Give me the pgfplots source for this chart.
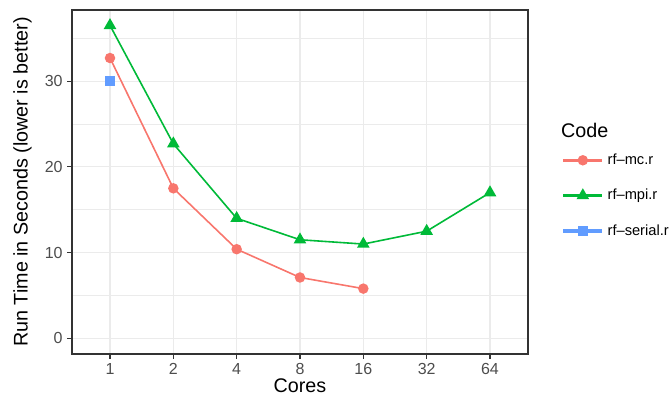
\documentclass[border=0pt]{standalone}
\usepackage{fontspec}
\setmainfont{Liberation Sans}
\usepackage{pgfplots}
\pgfplotsset{compat=1.18}
\definecolor{ggred}{HTML}{F8766D}
\definecolor{gggreen}{HTML}{00BA38}
\definecolor{ggblue}{HTML}{619CFF}
\definecolor{gridgray}{HTML}{EBEBEB}
\definecolor{framegray}{HTML}{333333}
\definecolor{tickgray}{HTML}{4D4D4D}
\pgfplotsset{
  ggkey/.style n args={3}{legend image code/.code={
    \fill[#1] (0pt,-0.65pt) rectangle (28pt,0.65pt);
    \draw[#1, fill=#1] plot[mark=#2, mark size=#3] coordinates {(14pt,0pt)};
  }},
}
\begin{document}
\begin{tikzpicture}
\path[use as bounding box] (0,0) rectangle (504pt,303pt);
\begin{axis}[
  at={(54pt,37.5pt)}, anchor=south west,
  scale only axis, width=342pt, height=258pt,
  xmin=-0.6, xmax=6.6, ymin=-1.825, ymax=38.3,
  xtick={0,1,2,3,4,5,6},
  xticklabels={1,2,4,8,16,32,64},
  ytick={0,10,20,30},
  minor ytick={5,15,25,35},
  grid=both,
  major grid style={gridgray, line width=0.8pt},
  minor grid style={gridgray, line width=0.4pt},
  axis line style={framegray, line width=0.8pt},
  tick style={framegray, line width=0.8pt},
  minor tick length=0pt,
  major tick length=3.5pt,
  tick align=outside, tick pos=left,
  ticklabel style={font=\fontsize{12}{14}\selectfont, text=tickgray},
  /pgf/number format/assume math mode=true,
  xlabel={Cores}, ylabel={Run Time in Seconds (lower is better)},
  label style={font=\fontsize{14.8}{17}\selectfont},
  xlabel style={yshift=3.5pt},
  ylabel style={yshift=3pt},
  legend style={at={(rel axis cs:1.077,0.59)}, anchor=north west,
    draw=none, fill=none, font=\fontsize{11}{13}\selectfont,
    inner xsep=0pt, inner ysep=0pt,
    row sep=13pt, cells={anchor=west},
    nodes={inner xsep=4pt}},
  clip=false,
]
\addplot[ggred, line width=1.2pt, mark=*, mark size=3.3pt,
  mark options={solid, draw=ggred, fill=ggred}, ggkey={ggred}{*}{3.3pt}]
coordinates {(0,32.7) (1,17.5) (2,10.4) (3,7.1) (4,5.8)};
\addlegendentry{rf\textendash mc.r}
\addplot[gggreen, line width=1.2pt, mark=triangle*, mark size=4.3pt,
  mark options={solid, draw=gggreen, fill=gggreen}, ggkey={gggreen}{triangle*}{4.3pt}]
coordinates {(0,36.5) (1,22.7) (2,14.0) (3,11.5) (4,11.0) (5,12.5) (6,17.0)};
\addlegendentry{rf\textendash mpi.r}
\addplot[ggblue, line width=1.2pt, mark=square*, mark size=3.3pt,
  mark options={solid, draw=ggblue, fill=ggblue}, ggkey={ggblue}{square*}{3.3pt}]
coordinates {(0,30.0)};
\addlegendentry{rf\textendash serial.r}
\node[anchor=west, inner xsep=0pt, font=\fontsize{14.8}{17}\selectfont] at (rel axis cs:1.072,0.651) {Code};
\end{axis}
\end{tikzpicture}
\end{document}
